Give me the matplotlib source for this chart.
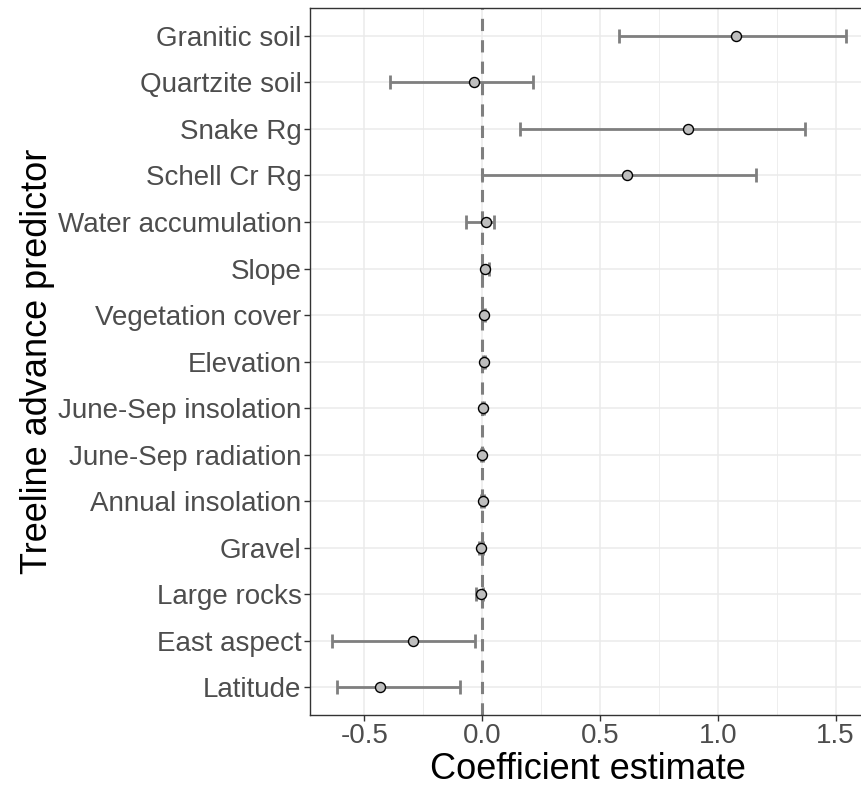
import numpy as np
import matplotlib
matplotlib.use("Agg")
import matplotlib.pyplot as plt
from matplotlib.ticker import MultipleLocator

plt.rcParams['font.family'] = ['Liberation Sans', 'DejaVu Sans']

# predictors, bottom to top
predictors = ['Latitude', 'East aspect', 'Large rocks', 'Gravel', 'Annual insolation',
              'June-Sep radiation', 'June-Sep insolation', 'Elevation', 'Vegetation cover',
              'Slope', 'Water accumulation', 'Schell Cr Rg', 'Snake Rg',
              'Quartzite soil', 'Granitic soil']
estimate = [-0.435, -0.293, -0.005, -0.005, 0.003,
            0.0, 0.005, 0.006, 0.006,
            0.011, 0.017, 0.613, 0.875,
            -0.034, 1.078]
lower = [-0.616, -0.638, -0.025, -0.012, -0.003,
         -0.004, 0.001, 0.002, 0.001,
         0.0, -0.069, 0.0, 0.162,
         -0.393, 0.581]
upper = [-0.093, -0.031, 0.002, 0.002, 0.008,
         0.004, 0.009, 0.010, 0.011,
         0.030, 0.050, 1.162, 1.370,
         0.215, 1.543]

est = np.array(estimate)
err = np.array([est - np.array(lower), np.array(upper) - est])
ypos = np.arange(1, len(predictors) + 1)

fig = plt.figure(figsize=(8.62, 7.88), dpi=100)
ax = fig.add_axes([0.3593, 0.0926, 0.645, 0.8972])

ax.xaxis.set_major_locator(MultipleLocator(0.5))
ax.xaxis.set_minor_locator(MultipleLocator(0.25))
ax.grid(which='major', color='#ebebeb', linewidth=1.1)
ax.grid(which='minor', axis='x', color='#ebebeb', linewidth=0.6)
ax.set_axisbelow(True)

ax.axvline(0, color='#7f7f7f', linestyle=(0, (4, 3)), linewidth=2.2, zorder=2)
ax.errorbar(est, ypos, xerr=err, fmt='none', ecolor='#7f7f7f', elinewidth=2,
            capsize=5, capthick=2, zorder=3)
ax.scatter(est, ypos, s=52, facecolor='#bebebe', edgecolor='black', linewidth=1, zorder=4)

ax.set_xlim(-0.732, 1.628)
ax.set_ylim(0.4, 15.6)
ax.set_yticks(ypos)
ax.set_yticklabels(predictors)
ax.set_xticks([-0.5, 0.0, 0.5, 1.0, 1.5])
ax.set_xticklabels(['-0.5', '0.0', '0.5', '1.0', '1.5'])

ax.tick_params(which='major', length=4, width=1, color='#333333', labelcolor='#4d4d4d',
               labelsize=20, pad=2)
ax.tick_params(which='minor', length=0)
for s in ax.spines.values():
    s.set_color('#333333')
    s.set_linewidth(1)

ax.set_xlabel('Coefficient estimate', fontsize=26, color='black', labelpad=2)
ax.set_ylabel('Treeline advance predictor', fontsize=26, color='black', labelpad=2)

fig.savefig('out.png', dpi=100)
